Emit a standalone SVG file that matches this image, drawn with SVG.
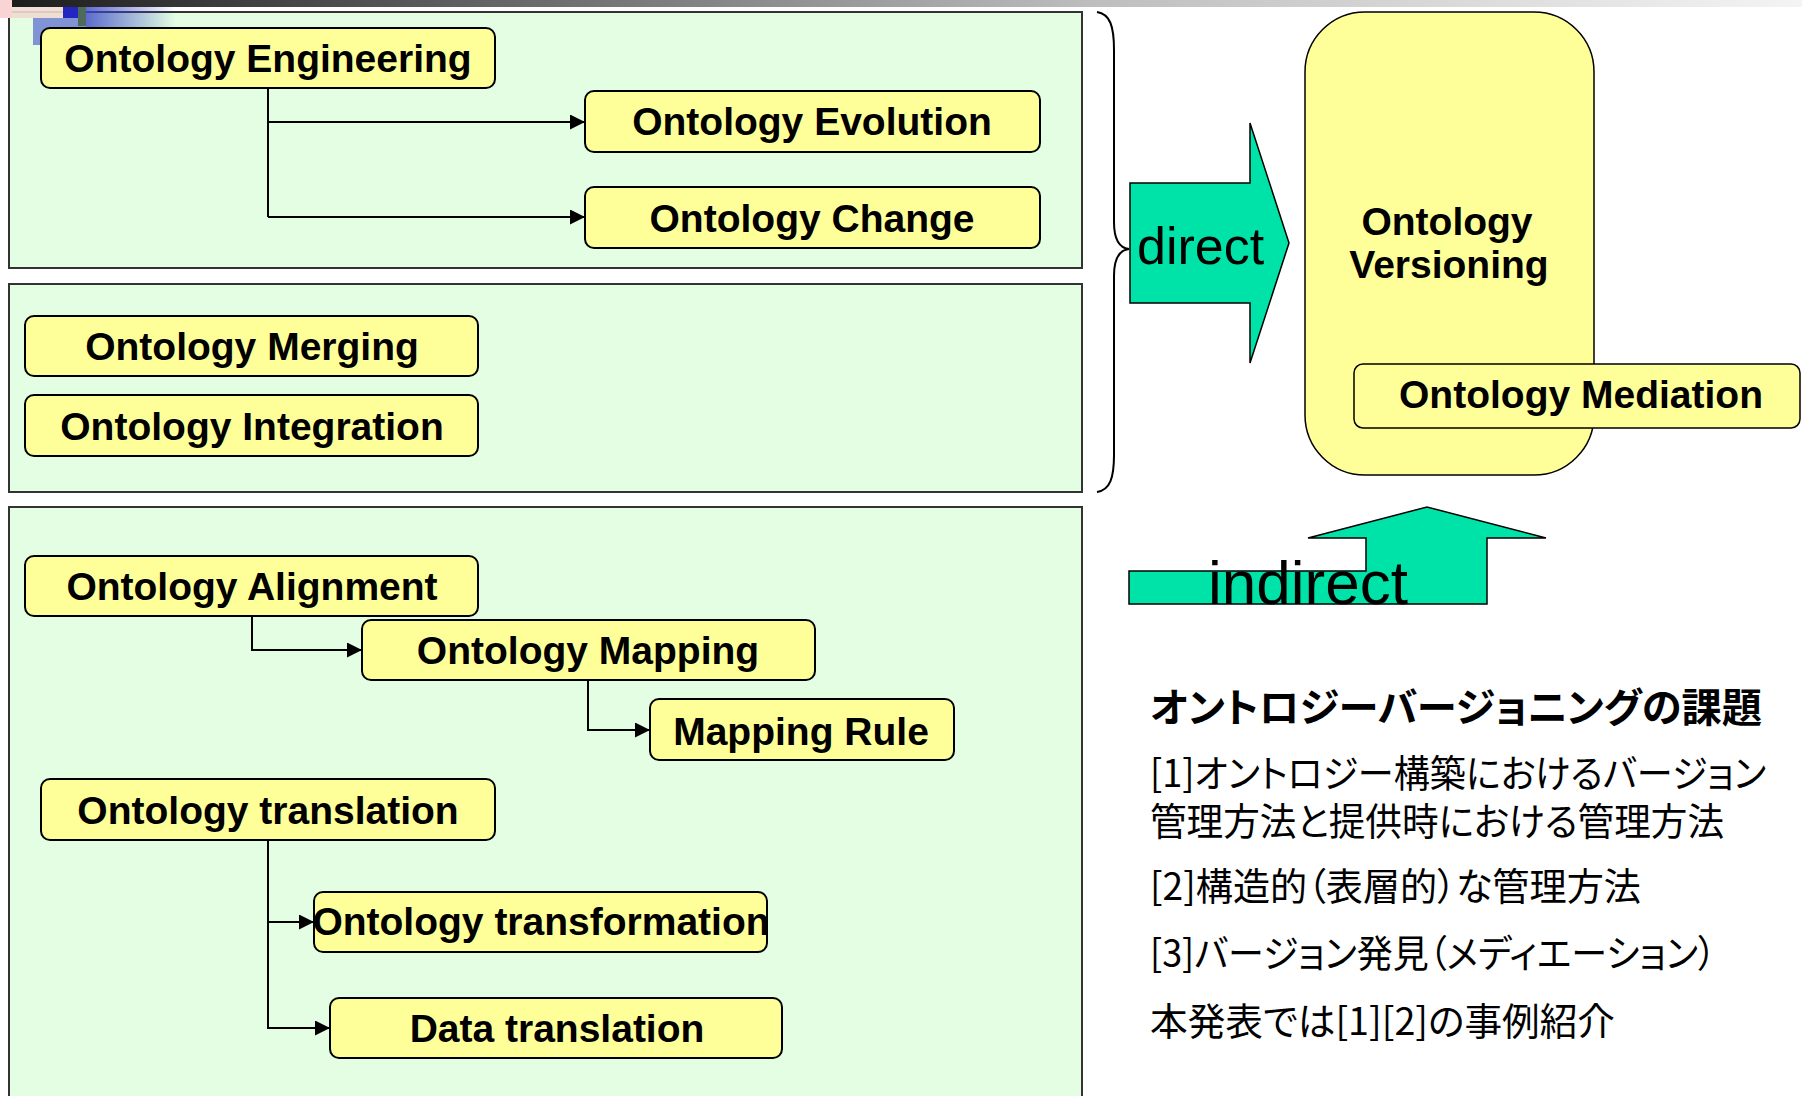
<svg xmlns="http://www.w3.org/2000/svg" width="1802" height="1096" viewBox="0 0 1802 1096">
<defs>
<linearGradient id="topbar" x1="0" y1="0" x2="1" y2="0">
<stop offset="0" stop-color="#1c1c1c"/>
<stop offset="0.6" stop-color="#bdbdbd"/>
<stop offset="1" stop-color="#f4f4f4"/>
</linearGradient>
<linearGradient id="bluefade" x1="0" y1="0" x2="1" y2="0">
<stop offset="0" stop-color="#3a48c8" stop-opacity="0.8"/>
<stop offset="1" stop-color="#3a48c8" stop-opacity="0"/>
</linearGradient>
<marker id="arr" viewBox="0 0 10 10" refX="10" refY="5" markerWidth="15" markerHeight="15" markerUnits="userSpaceOnUse" orient="auto">
<path d="M0,0 L10,5 L0,10 z" fill="#000"/>
</marker>
<style>
.panel{fill:#e3fee3;stroke:#333;stroke-width:2}
.box{fill:#ffff99;stroke:#000;stroke-width:2}
.lbl{font-family:"Liberation Sans",Arial,sans-serif;font-weight:bold;font-size:39px;fill:#000;text-anchor:middle}
.conn{fill:none;stroke:#000;stroke-width:2}
.big{fill:#00e3a8;stroke:#000;stroke-width:1.5}
.arrtxt{font-family:"Liberation Sans",Arial,sans-serif;fill:#000}
.jp{font-family:"Noto Sans CJK JP",sans-serif;font-size:38px;fill:#000;font-feature-settings:"palt"}
</style>
</defs>

<rect x="0" y="0" width="1802" height="1096" fill="#ffffff"/>
<rect x="11" y="0" width="1791" height="7" fill="url(#topbar)"/>

<g id="panels">
<rect class="panel" x="9" y="12" width="1073" height="256"/>
<rect class="panel" x="9" y="284" width="1073" height="208"/>
<rect class="panel" x="9" y="507" width="1073" height="600"/>
</g>

<g id="decoration">
<rect x="0" y="0" width="12" height="18" fill="#f8d4d4"/>
<rect x="12" y="7" width="51" height="11" fill="#f0dcd0" opacity="0.9"/>
<rect x="86" y="7" width="90" height="21" fill="url(#bluefade)"/>
<rect x="33" y="18" width="53" height="27" fill="#6f80d2" opacity="0.85"/>
<rect x="63" y="7" width="23" height="11" fill="#2424c0"/>
<rect x="78" y="7" width="8" height="19" fill="#4f6a5a"/>
</g>

<g id="connectors">
<path class="conn" d="M268,88 V217"/>
<path class="conn" d="M268,122 H585" marker-end="url(#arr)"/>
<path class="conn" d="M268,217 H585" marker-end="url(#arr)"/>
<path class="conn" d="M252,616 V650 H362" marker-end="url(#arr)"/>
<path class="conn" d="M588,680 V730 H650" marker-end="url(#arr)"/>
<path class="conn" d="M268,840 V1028 H330" marker-end="url(#arr)"/>
<path class="conn" d="M268,922 H314" marker-end="url(#arr)"/>
<path class="conn" d="M1097,12 C1110,14 1114,26 1114,50 L1114,222 C1114,240 1120,248 1129,249 C1120,250 1114,258 1114,276 L1114,455 C1114,478 1110,490 1097,492"/>
</g>

<g id="n-engineering"><rect class="box" x="41" y="28" width="454" height="60" rx="9"/><text class="lbl" x="268" y="72">Ontology Engineering</text></g>
<g id="n-evolution"><rect class="box" x="585" y="91" width="455" height="61" rx="9"/><text class="lbl" x="812" y="135">Ontology Evolution</text></g>
<g id="n-change"><rect class="box" x="585" y="187" width="455" height="61" rx="9"/><text class="lbl" x="812" y="232">Ontology Change</text></g>
<g id="n-merging"><rect class="box" x="25" y="316" width="453" height="60" rx="9"/><text class="lbl" x="252" y="360">Ontology Merging</text></g>
<g id="n-integration"><rect class="box" x="25" y="395" width="453" height="61" rx="9"/><text class="lbl" x="252" y="440">Ontology Integration</text></g>
<g id="n-alignment"><rect class="box" x="25" y="556" width="453" height="60" rx="9"/><text class="lbl" x="252" y="600">Ontology Alignment</text></g>
<g id="n-mapping"><rect class="box" x="362" y="620" width="453" height="60" rx="9"/><text class="lbl" x="588" y="664">Ontology Mapping</text></g>
<g id="n-mappingrule"><rect class="box" x="650" y="699" width="304" height="61" rx="9"/><text class="lbl" x="801" y="745">Mapping Rule</text></g>
<g id="n-translation"><rect class="box" x="41" y="779" width="454" height="61" rx="9"/><text class="lbl" x="268" y="824">Ontology translation</text></g>
<g id="n-transformation"><rect class="box" x="314" y="892" width="453" height="60" rx="9"/><text class="lbl" x="541" y="935">Ontology transformation</text></g>
<g id="n-datatranslation"><rect class="box" x="330" y="998" width="452" height="60" rx="9"/><text class="lbl" x="557" y="1042">Data translation</text></g>

<g id="n-direct">
<path class="big" d="M1130,183 H1250 V123 L1289,243 L1250,363 V303 H1130 Z"/>
<text class="arrtxt" x="1137" y="264" font-size="52">direct</text>
</g>

<g id="n-versioning">
<rect class="box" x="1305" y="12" width="289" height="463" rx="60" ry="60" style="stroke-width:1.5"/>
<text class="lbl" x="1447" y="235">Ontology</text>
<text class="lbl" x="1449" y="278">Versioning</text>
</g>

<g id="n-mediation">
<rect class="box" x="1354" y="364" width="446" height="64" rx="9" style="stroke-width:1.5"/>
<text class="lbl" x="1581" y="408">Ontology Mediation</text>
</g>

<g id="n-indirect">
<path class="big" d="M1129,571 H1366 V538 H1308 L1427,507 L1546,538 H1487 V604 H1129 Z"/>
<text class="arrtxt" x="1208" y="604" font-size="62">indirect</text>
</g>

<g id="notes">
<text class="jp" x="1150" y="722" font-weight="bold" style="font-size:40px" textLength="612" lengthAdjust="spacingAndGlyphs">オントロジーバージョニングの課題</text>
<text class="jp" x="1150" y="787" textLength="616" lengthAdjust="spacingAndGlyphs">[1]オントロジー構築におけるバージョン</text>
<text class="jp" x="1150" y="835" textLength="574" lengthAdjust="spacingAndGlyphs">管理方法と提供時における管理方法</text>
<text class="jp" x="1150" y="900" textLength="491" lengthAdjust="spacingAndGlyphs">[2]構造的（表層的）な管理方法</text>
<text class="jp" x="1150" y="967" textLength="566" lengthAdjust="spacingAndGlyphs">[3]バージョン発見（メディエーション）</text>
<text class="jp" x="1150" y="1035" textLength="465" lengthAdjust="spacingAndGlyphs">本発表では[1][2]の事例紹介</text>
</g>
</svg>
